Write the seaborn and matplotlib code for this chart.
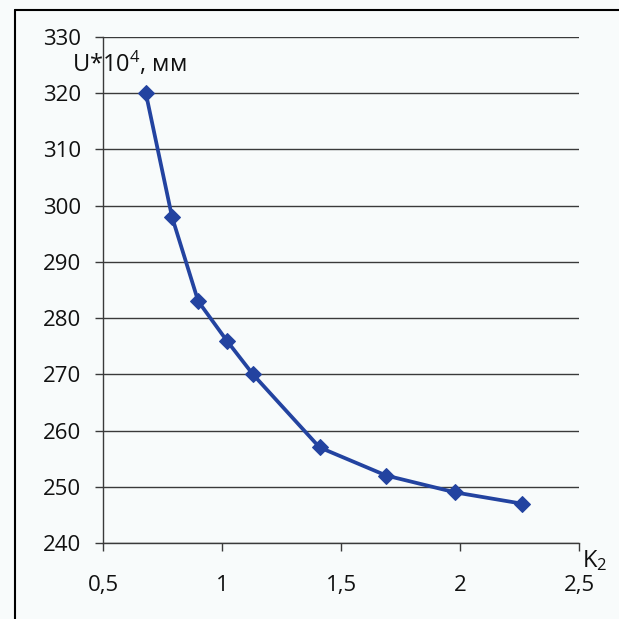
import matplotlib
matplotlib.use("Agg")
import matplotlib.pyplot as plt
import seaborn as sns
import pandas as pd

k2 = [0.68, 0.79, 0.90, 1.02, 1.13, 1.41, 1.69, 1.98, 2.26]
u = [320, 298, 283, 276, 270, 257, 252, 249, 247]
x_ticks = [0.5, 1, 1.5, 2, 2.5]
x_tick_labels = ["0,5", "1", "1,5", "2", "2,5"]
y_ticks = [240, 250, 260, 270, 280, 290, 300, 310, 320, 330]

sns.set_theme(style="white")
plt.rcParams['font.family'] = ['Open Sans', 'DejaVu Sans']
plt.rcParams['mathtext.fontset'] = 'custom'
plt.rcParams['mathtext.rm'] = 'Open Sans'
plt.rcParams['mathtext.it'] = 'Open Sans'
plt.rcParams['mathtext.default'] = 'rm'

bg = "#f8fbfb"
fig = plt.figure(figsize=(6.19, 6.19), dpi=100, facecolor=bg)
ax = fig.add_axes([103/619, 1-543/619, (579-103)/619, (543-37)/619])
ax.set_facecolor(bg)

df = pd.DataFrame({"K2": k2, "U": u})
sns.lineplot(data=df, x="K2", y="U", ax=ax, color="#2343a0", linewidth=2.7,
             marker="D", markersize=8.5, markeredgecolor="#2343a0", legend=False)

ax.set_xlim(0.5, 2.5)
ax.set_ylim(240, 330)
ax.set_xticks(x_ticks)
ax.set_xticklabels(x_tick_labels)
ax.set_yticks(y_ticks)
ax.yaxis.grid(True, color="#3a3a3a", linewidth=1.0)
ax.xaxis.grid(False)
for s in ["top", "right"]:
    ax.spines[s].set_visible(False)
for s in ["left", "bottom"]:
    ax.spines[s].set_color("#3a3a3a")
    ax.spines[s].set_linewidth(1.0)
ax.tick_params(axis="y", direction="out", length=6, width=1, color="#3a3a3a",
               pad=10, labelsize=16, labelcolor="#111111", left=True)
ax.tick_params(axis="x", direction="out", length=6, width=1, color="#3a3a3a",
               pad=17, labelsize=16, labelcolor="#111111", bottom=True)
ax.set_xlabel("")
ax.set_ylabel("")

fig.text(72/619, 1-64/619, "U*10$^{4}$, мм", fontsize=17, color="#111111",
         ha="left", va="center")
fig.text(582/619, 1-561/619, "K$_{2}$", fontsize=17, color="#111111",
         ha="left", va="center")

# outer frame (top and left edges)
fig.add_artist(plt.Line2D([15/619, 1], [1-10/619, 1-10/619], color="black", linewidth=1.5, transform=fig.transFigure))
fig.add_artist(plt.Line2D([15/619, 15/619], [0, 1-10/619], color="black", linewidth=1.5, transform=fig.transFigure))

fig.savefig("out.png", dpi=100, facecolor=bg)
